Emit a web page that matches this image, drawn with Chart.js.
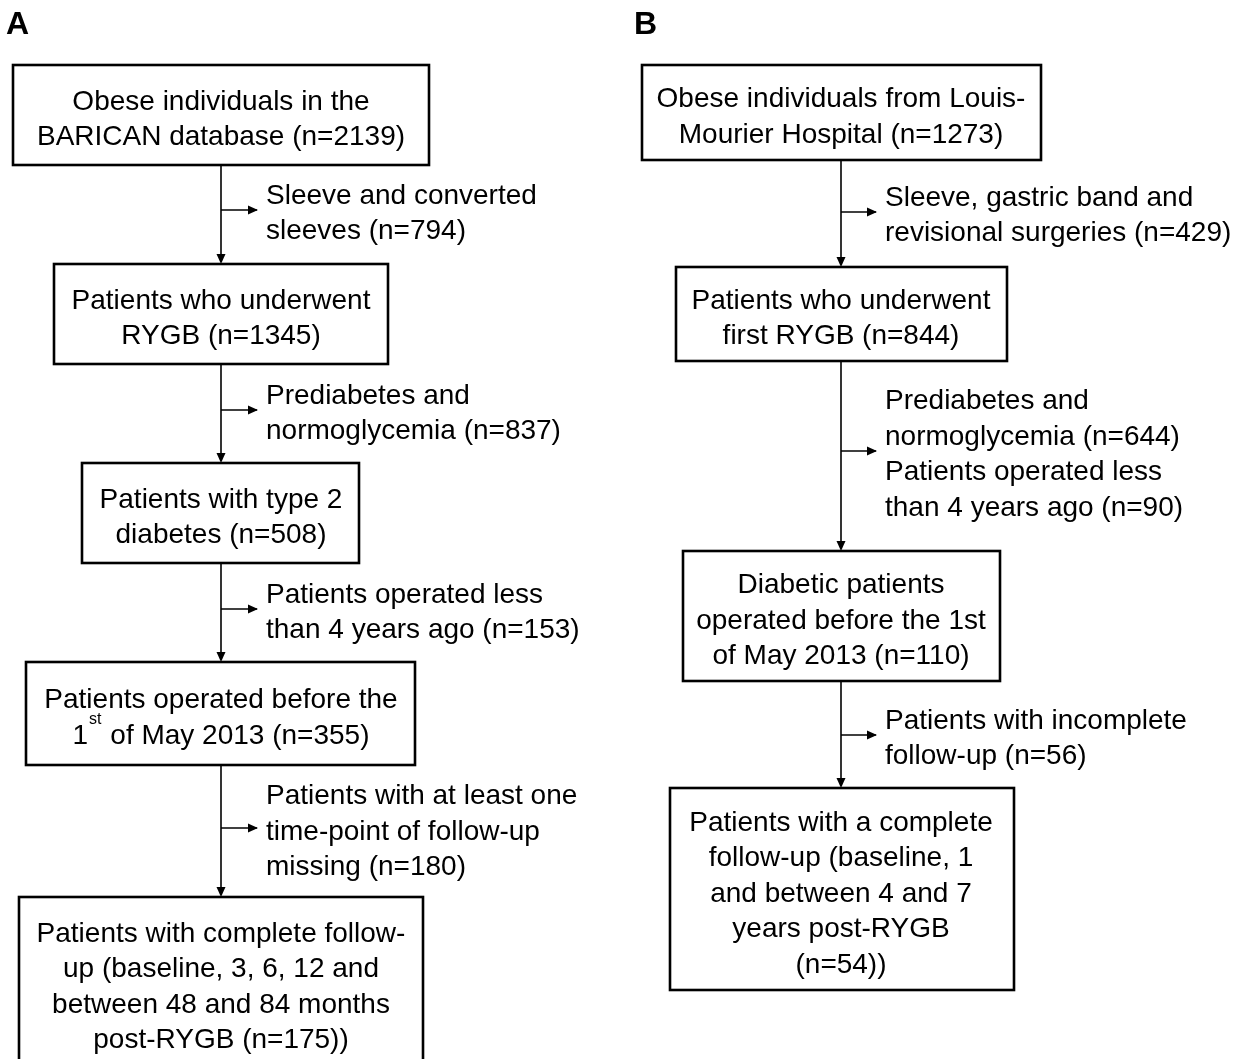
<!DOCTYPE html>
<html>
<head>
<meta charset="utf-8">
<script src="https://cdn.jsdelivr.net/npm/chart.js@4"></script>
<style>
  html, body { margin: 0; background: #fff; }
  #wrap { width: 1247px; height: 1059px; }
</style>
</head>
<body>
<div id="wrap"><canvas id="flow" width="1247" height="1059"></canvas></div>
<script>
// counts shown in the boxes (main flow) and in the side notes (exclusions)
const countsA = [2139, 1345, 508, 355, 175];
const excludedA = [[794], [837], [153], [180]];
const countsB = [1273, 844, 110, 54];
const excludedB = [[429], [644, 90], [56]];

const panelLabels = ['A', 'B'];

// box texts, {n} is filled from the arrays above
const boxTextA = [
  ['Obese individuals in the', 'BARICAN database (n={n})'],
  ['Patients who underwent', 'RYGB (n={n})'],
  ['Patients with type 2', 'diabetes (n={n})'],
  ['Patients operated before the', '1^st of May 2013 (n={n})'],
  ['Patients with complete follow-', 'up (baseline, 3, 6, 12 and', 'between 48 and 84 months', 'post-RYGB (n={n}))']
];
const exclTextA = [
  ['Sleeve and converted', 'sleeves (n={n})'],
  ['Prediabetes and', 'normoglycemia (n={n})'],
  ['Patients operated less', 'than 4 years ago (n={n})'],
  ['Patients with at least one', 'time-point of follow-up', 'missing (n={n})']
];
const boxTextB = [
  ['Obese individuals from Louis-', 'Mourier Hospital (n={n})'],
  ['Patients who underwent', 'first RYGB (n={n})'],
  ['Diabetic patients', 'operated before the 1st', 'of May 2013 (n={n})'],
  ['Patients with a complete', 'follow-up (baseline, 1', 'and between 4 and 7', 'years post-RYGB', '(n={n}))']
];
const exclTextB = [
  ['Sleeve, gastric band and', 'revisional surgeries (n={n})'],
  ['Prediabetes and', 'normoglycemia (n={n})', 'Patients operated less', 'than 4 years ago (n={n})'],
  ['Patients with incomplete', 'follow-up (n={n})']
];

// layout, in axis units (axes span the canvas 1:1)
const layoutA = {
  label: [6, 25], cx: 221, noteX: 266,
  boxes: [[13, 429, 65, 165], [54, 388, 264, 364], [82, 359, 463, 563], [26, 415, 662, 765], [19, 423, 897, 1068]],
  branchY: [210, 410, 609, 828]
};
const layoutB = {
  label: [634, 25], cx: 841, noteX: 885,
  boxes: [[642, 1041, 65, 160], [676, 1007, 267, 361], [683, 1000, 551, 681], [670, 1014, 788, 990]],
  branchY: [212, 451, 735]
};

const FONT = '"Liberation Sans", Arial, sans-serif';
const LINE_H = 35.5;

function fill(lines, nums) {
  let k = 0;
  return lines.map(l => l.replace(/\{n\}/g, () => nums[k++]));
}

function buildPanel(lay, boxText, counts, exclText, excluded, label) {
  return {
    lay, label,
    boxes: boxText.map((t, i) => fill(t, [counts[i]])),
    notes: exclText.map((t, i) => fill(t, excluded[i]))
  };
}

const panels = [
  buildPanel(layoutA, boxTextA, countsA, exclTextA, excludedA, panelLabels[0]),
  buildPanel(layoutB, boxTextB, countsB, exclTextB, excludedB, panelLabels[1])
];

// draws a line, handling "1^st" superscript
function drawLine(ctx, text, x, y, align) {
  const m = text.match(/^(.*?)\^(\w+)(.*)$/);
  ctx.font = '28px ' + FONT;
  if (!m) {
    ctx.textAlign = align;
    ctx.fillText(text, x, y);
    return;
  }
  const w1 = ctx.measureText(m[1]).width;
  const w3 = ctx.measureText(m[3]).width;
  ctx.font = '16px ' + FONT;
  const w2 = ctx.measureText(m[2]).width + 2;
  let left = align === 'center' ? x - (w1 + w2 + w3) / 2 : x;
  ctx.textAlign = 'left';
  ctx.font = '28px ' + FONT;
  ctx.fillText(m[1], left, y);
  ctx.font = '16px ' + FONT;
  ctx.fillText(m[2], left + w1 + 1, y - 17);
  ctx.font = '28px ' + FONT;
  ctx.fillText(m[3], left + w1 + w2, y);
}

function arrowHead(ctx, x, y, dir) {
  ctx.beginPath();
  if (dir === 'down') {
    ctx.moveTo(x, y); ctx.lineTo(x - 4.5, y - 10); ctx.lineTo(x + 4.5, y - 10);
  } else {
    ctx.moveTo(x, y); ctx.lineTo(x - 10, y - 4.5); ctx.lineTo(x - 10, y + 4.5);
  }
  ctx.closePath();
  ctx.fill();
}

const flowPlugin = {
  id: 'flow',
  afterDatasetsDraw(chart) {
    const ctx = chart.ctx;
    const xs = chart.scales.x, ys = chart.scales.y;
    const X = v => xs.getPixelForValue(v), Y = v => ys.getPixelForValue(v);
    ctx.save();
    ctx.fillStyle = '#000';
    ctx.strokeStyle = '#000';
    ctx.textBaseline = 'middle';

    panels.forEach(p => {
      const lay = p.lay;
      ctx.font = 'bold 32px ' + FONT;
      ctx.textAlign = 'left';
      ctx.fillText(p.label, X(lay.label[0]), Y(lay.label[1]));

      // connectors
      ctx.lineWidth = 1.6;
      for (let i = 0; i < lay.boxes.length - 1; i++) {
        const from = lay.boxes[i][3], to = lay.boxes[i + 1][2];
        ctx.beginPath();
        ctx.moveTo(X(lay.cx), Y(from));
        ctx.lineTo(X(lay.cx), Y(to) - 9);
        ctx.stroke();
        arrowHead(ctx, X(lay.cx), Y(to), 'down');
        const by = lay.branchY[i];
        ctx.beginPath();
        ctx.moveTo(X(lay.cx), Y(by));
        ctx.lineTo(X(lay.noteX - 9), Y(by));
        ctx.stroke();
        arrowHead(ctx, X(lay.noteX - 8), Y(by), 'right');
        const lines = p.notes[i];
        lines.forEach((l, j) => {
          drawLine(ctx, l, X(lay.noteX), Y(by + 4 + (j - (lines.length - 1) / 2) * LINE_H), 'left');
        });
      }

      // boxes
      ctx.lineWidth = 2.6;
      lay.boxes.forEach((b, i) => {
        ctx.strokeRect(X(b[0]), Y(b[2]), X(b[1]) - X(b[0]), Y(b[3]) - Y(b[2]));
        const cy = (b[2] + b[3]) / 2 + 5;
        const lines = p.boxes[i];
        lines.forEach((l, j) => {
          drawLine(ctx, l, X(lay.cx), Y(cy + (j - (lines.length - 1) / 2) * LINE_H), 'center');
        });
      });
    });
    ctx.restore();
  }
};

new Chart(document.getElementById('flow'), {
  type: 'scatter',
  data: {
    datasets: [layoutA, layoutB].map(lay => ({
      data: lay.boxes.map(b => ({ x: lay.cx, y: (b[2] + b[3]) / 2 })),
      pointRadius: 0
    }))
  },
  options: {
    responsive: false,
    animation: false,
    layout: { padding: 0 },
    scales: {
      x: { type: 'linear', min: 0, max: 1247, display: false },
      y: { type: 'linear', min: 0, max: 1059, reverse: true, display: false }
    },
    plugins: { legend: { display: false }, tooltip: { enabled: false } }
  },
  plugins: [flowPlugin]
});
</script>
</body>
</html>
